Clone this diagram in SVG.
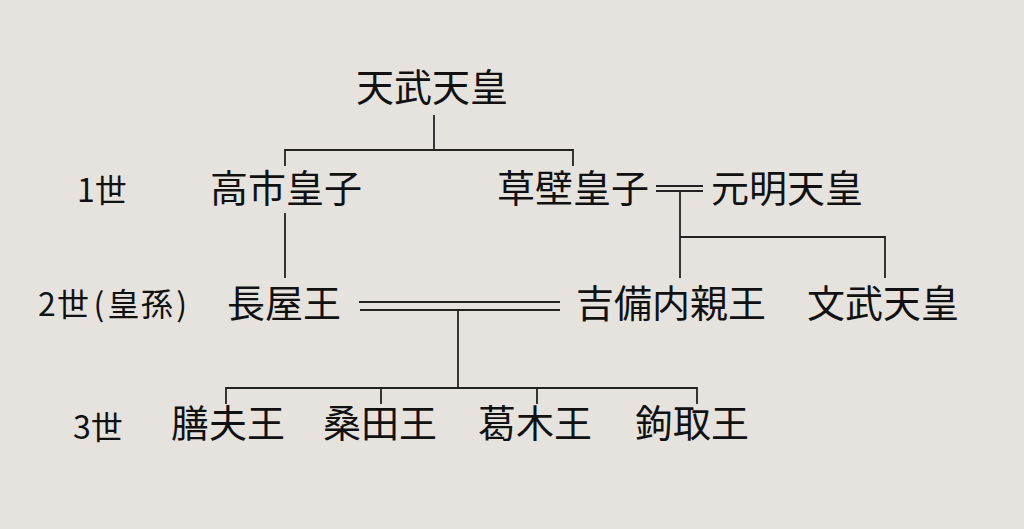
<svg xmlns="http://www.w3.org/2000/svg" width="1024" height="529" viewBox="0 0 1024 529">
<style>
.n{font-family:"Noto Sans CJK JP","Noto Sans CJK SC",sans-serif;font-size:38px;fill:#111;text-anchor:middle}
.g{font-family:"Noto Sans CJK JP","Noto Sans CJK SC",sans-serif;font-size:32px;fill:#111}
.c line,.c polyline{stroke:#222;stroke-width:1.8;fill:none}
</style>
<rect width="1024" height="529" fill="#e6e3df"/>
<g id="gen-labels">
<text class="g" x="77" y="202">1世</text>
<text class="g" x="38" y="316" textLength="149" lengthAdjust="spacing">2世<tspan dx="3">(</tspan><tspan dx="2">皇孫</tspan><tspan dx="2">)</tspan></text>
<text class="g" x="73" y="439">3世</text>
</g>
<g id="tenmu"><text class="n" x="432" y="101">天武天皇</text></g>
<g id="takechi"><text class="n" x="286" y="202">高市皇子</text></g>
<g id="kusakabe"><text class="n" x="573" y="202">草壁皇子</text></g>
<g id="genmei"><text class="n" x="787" y="202">元明天皇</text></g>
<g id="nagaya"><text class="n" x="284" y="317">長屋王</text></g>
<g id="kibi"><text class="n" x="671" y="317">吉備内親王</text></g>
<g id="monmu"><text class="n" x="883" y="317">文武天皇</text></g>
<g id="kashiwade"><text class="n" x="228" y="437">膳夫王</text></g>
<g id="kuwata"><text class="n" x="380" y="437">桑田王</text></g>
<g id="katsuragi"><text class="n" x="535" y="437">葛木王</text></g>
<g id="kagitori"><text class="n" x="692" y="437">鉤取王</text></g>
<g id="connectors" class="c">
<line x1="434" y1="115" x2="434" y2="150"/>
<polyline points="285,166 285,150 573,150 573,166"/>
<line x1="285" y1="213" x2="285" y2="278"/>
<line x1="656" y1="186" x2="703" y2="186"/>
<line x1="656" y1="191" x2="703" y2="191"/>
<line x1="680" y1="191" x2="680" y2="278"/>
<polyline points="680,237 885,237 885,278"/>
<line x1="359" y1="302" x2="560" y2="302"/>
<line x1="360" y1="310" x2="560" y2="310"/>
<line x1="458" y1="310" x2="458" y2="388"/>
<polyline points="226,404 226,388 697,388 697,404"/>
<line x1="381" y1="388" x2="381" y2="404"/>
<line x1="537" y1="388" x2="537" y2="404"/>
</g>
</svg>
